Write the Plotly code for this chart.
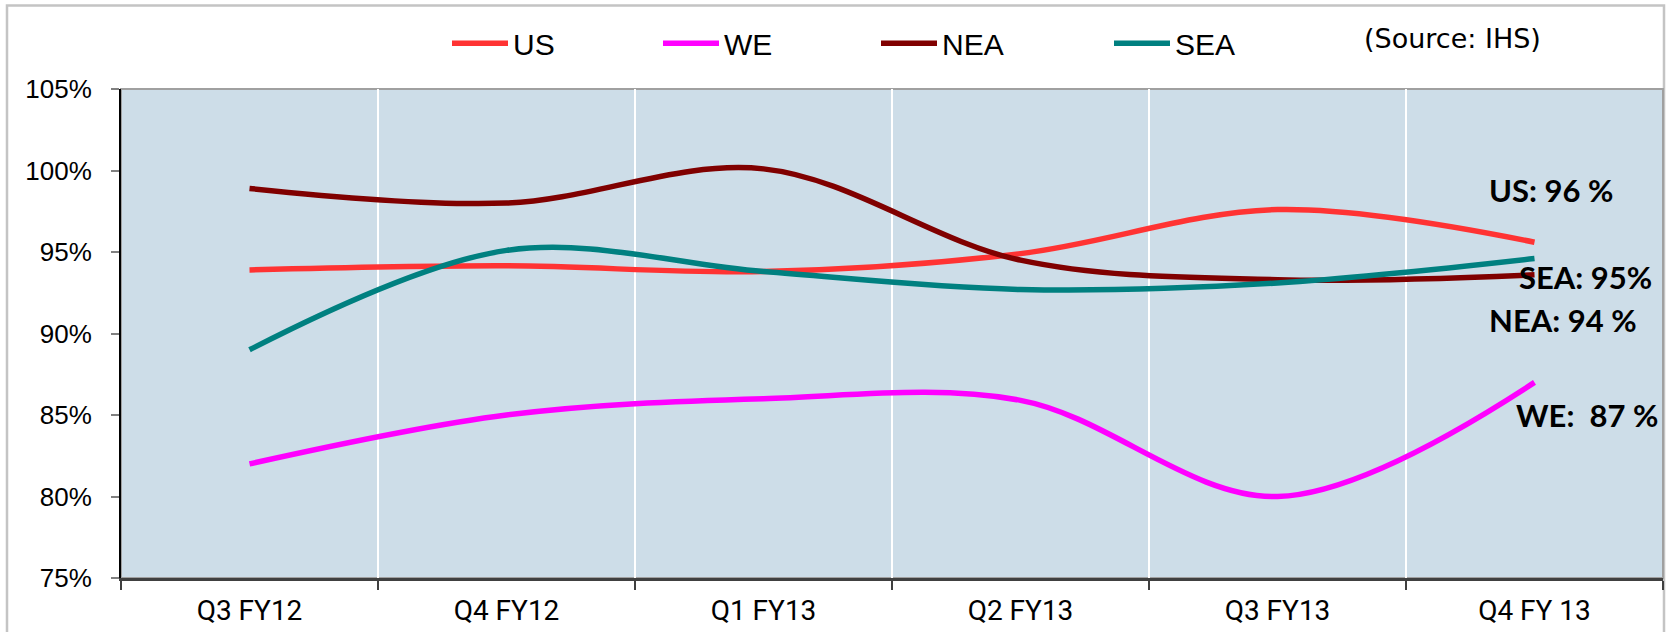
import plotly.graph_objects as go

# Quarterly utilisation by region, in percent
quarters = ["Q3 FY12", "Q4 FY12", "Q1 FY13", "Q2 FY13", "Q3 FY13", "Q4 FY 13"]
us = [93.9, 94.15, 93.8, 94.9, 97.6, 95.6]
we = [82.0, 85.0, 86.0, 85.9, 80.0, 87.0]
nea = [98.9, 98.0, 100.1, 94.5, 93.3, 93.6]
sea = [89.0, 95.1, 93.8, 92.7, 93.1, 94.6]

series_names = ["US", "WE", "NEA", "SEA"]
series_values = [us, we, nea, sea]
series_colors = ["#FF3333", "#FF00FF", "#800000", "#008080"]

y_ticks = [75, 80, 85, 90, 95, 100, 105]
y_tick_labels = [f"{v}%" for v in y_ticks]

W, H = 1668, 632
L, R, T, B = 121, 5, 89, 51
plot_w = W - L - R
plot_h = H - T - B


def px_x(p):
    return (p - L) / plot_w


def px_y(p):
    return (H - B - p) / plot_h


fig = go.Figure()

# one legend per series so each entry can sit at its own spot
legend_ids = ["legend", "legend2", "legend3", "legend4"]
legend_left = [447, 658, 876, 1109]

for name, vals, color, lid in zip(series_names, series_values, series_colors, legend_ids):
    fig.add_trace(go.Scatter(
        x=quarters, y=vals, name=name, mode="lines",
        line=dict(color=color, width=5.5, shape="spline", smoothing=1.0),
        legend=lid, hoverinfo="x+y+name",
    ))

legend_style = dict(
    orientation="h", yanchor="middle", xanchor="left",
    bgcolor="rgba(0,0,0,0)", borderwidth=0, itemwidth=56,
    font=dict(family="Liberation Sans, Arial, sans-serif", size=30, color="#000000"),
)
layout_legends = {}
for lid, left in zip(legend_ids, legend_left):
    layout_legends[lid] = dict(legend_style, x=px_x(left), y=px_y(43))

# end-of-line value labels: (series index, x shift, y shift, format)
label_spec = [(0, -48, 52, "{n}: {v} %"), (3, -18, -18, "{n}: {v}%"),
              (2, -48, -45, "{n}: {v} %"), (1, -21, -33, "{n}:  {v} %")]
annotations = []
for idx, dx, dy, fmt in label_spec:
    v = series_values[idx][-1]
    annotations.append(dict(
        x=quarters[-1], y=v, xref="x", yref="y",
        text="<b>" + fmt.format(n=series_names[idx], v=round(v)) + "</b>",
        showarrow=False, xanchor="left", yanchor="middle",
        xshift=dx, yshift=dy,
        font=dict(family="Lato, sans-serif", size=31, color="#000000"),
    ))

annotations.append(dict(
    x=px_x(1362), y=px_y(38), xref="paper", yref="paper",
    text="(Source: IHS)", showarrow=False, xanchor="left", yanchor="middle",
    font=dict(family="DejaVu Sans, sans-serif", size=27, color="#000000"),
))

shapes = [
    # outer chart frame
    dict(type="rect", xref="paper", yref="paper",
         x0=px_x(7), x1=px_x(1664), y0=px_y(660), y1=px_y(5),
         line=dict(color="#C4C4C4", width=2.5), layer="below"),
    # plot-area border
    dict(type="rect", xref="paper", yref="paper", x0=0, x1=1, y0=0, y1=1,
         line=dict(color="#A0A0A0", width=2), layer="below"),
]

fig.update_layout(
    width=W, height=H,
    margin=dict(l=L, r=R, t=T, b=B, pad=0),
    paper_bgcolor="#FFFFFF",
    plot_bgcolor="#CDDDE8",
    showlegend=True,
    annotations=annotations,
    shapes=shapes,
    xaxis=dict(
        type="category", range=[-0.5, 5.5], tickson="boundaries",
        showgrid=True, gridcolor="#FFFFFF", gridwidth=2,
        showline=True, linecolor="#404040", linewidth=2.5,
        ticks="outside", ticklen=9, tickwidth=1.5, tickcolor="#404040",
        ticklabelstandoff=6,
        tickfont=dict(family="Roboto, sans-serif", size=28, color="#000000"),
        fixedrange=True, zeroline=False,
    ),
    yaxis=dict(
        range=[75, 105], tickmode="array", tickvals=y_ticks, ticktext=y_tick_labels,
        showgrid=False, zeroline=False,
        showline=True, linecolor="#000000", linewidth=2,
        ticks="outside", ticklen=8, tickwidth=2, tickcolor="#808080",
        ticklabelstandoff=14,
        tickfont=dict(family="Liberation Sans, Arial, sans-serif", size=26, color="#000000"),
        fixedrange=True,
    ),
    **layout_legends,
)

fig.write_html("out.html")
